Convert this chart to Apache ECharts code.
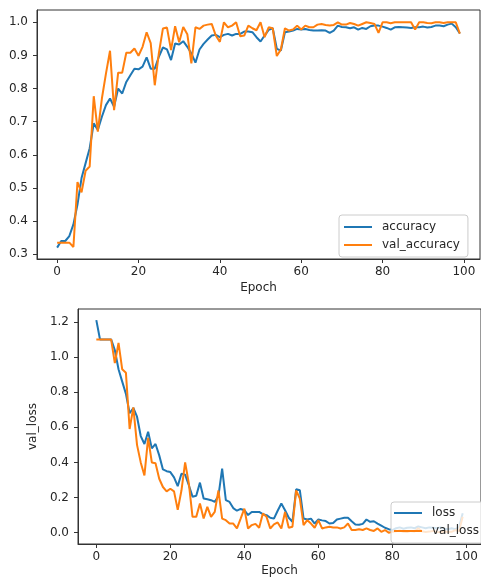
<!DOCTYPE html>
<html><head><meta charset="utf-8">
<script src="https://cdn.jsdelivr.net/npm/echarts@6/dist/echarts.min.js"></script>
<style>html,body{margin:0;padding:0;background:#fff}#c{width:481px;height:578px}</style>
</head><body><div id="c"></div>
<script>
// ---- data ----
const epochs = Array.from({length: 100}, (_, i) => i);
const accuracy = [
0.32,0.34,0.34,0.355,0.39,0.45,0.53,0.575,0.62,0.695,
0.675,0.715,0.75,0.77,0.745,0.80,0.785,0.82,0.84,0.86,
0.858,0.866,0.894,0.86,0.86,0.896,0.924,0.918,0.886,0.936,
0.933,0.943,0.926,0.906,0.878,0.918,0.935,0.948,0.96,0.962,
0.955,0.962,0.965,0.96,0.965,0.965,0.972,0.972,0.97,0.955,
0.942,0.96,0.977,0.982,0.92,0.915,0.97,0.972,0.975,0.98,
0.978,0.98,0.977,0.975,0.975,0.976,0.975,0.968,0.975,0.99,
0.986,0.985,0.982,0.985,0.978,0.983,0.98,0.988,0.99,0.99,
0.987,0.983,0.978,0.985,0.986,0.985,0.984,0.983,0.985,0.985,
0.987,0.984,0.986,0.99,0.99,0.988,0.993,0.996,0.985,0.966];
const valAccuracy = [
0.335,0.335,0.335,0.335,0.322,0.518,0.487,0.552,0.565,0.777,
0.67,0.77,0.845,0.914,0.735,0.848,0.848,0.908,0.908,0.921,
0.899,0.926,0.97,0.937,0.81,0.906,0.981,0.984,0.916,0.988,
0.94,0.986,0.964,0.876,0.985,0.98,0.99,0.993,0.995,0.96,
0.941,1.0,0.985,0.99,1.0,0.958,0.96,0.99,0.982,0.976,
1.0,0.955,0.985,0.982,0.898,0.918,0.982,0.975,0.978,0.99,
0.978,0.99,0.985,0.985,0.993,0.995,0.992,0.99,0.992,1.0,
0.993,0.993,0.998,0.995,0.99,0.995,1.0,0.998,0.995,0.968,
1.0,1.0,0.997,1.0,1.0,1.0,1.0,1.0,0.978,1.0,
1.0,0.998,0.997,1.0,1.0,0.998,1.0,1.0,1.0,0.966];
const loss = [
1.21,1.10,1.10,1.10,1.10,1.04,0.93,0.86,0.79,0.68,
0.71,0.66,0.55,0.505,0.575,0.48,0.505,0.44,0.36,0.35,
0.345,0.315,0.265,0.335,0.33,0.27,0.205,0.21,0.285,0.195,
0.19,0.185,0.175,0.21,0.365,0.185,0.175,0.14,0.125,0.135,
0.128,0.10,0.118,0.118,0.118,0.105,0.10,0.085,0.08,0.125,
0.166,0.128,0.085,0.062,0.247,0.241,0.081,0.075,0.08,0.052,
0.075,0.07,0.066,0.052,0.055,0.075,0.08,0.085,0.085,0.065,
0.047,0.045,0.05,0.075,0.062,0.065,0.052,0.04,0.028,0.02,
0.015,0.025,0.03,0.022,0.028,0.03,0.025,0.035,0.03,0.025,
0.03,0.028,0.025,0.03,0.022,0.02,0.025,0.02,0.03,0.11];
const valLoss = [
1.10,1.10,1.10,1.10,1.10,0.965,1.08,0.93,0.91,0.59,
0.713,0.50,0.40,0.326,0.54,0.40,0.395,0.307,0.26,0.235,
0.25,0.235,0.13,0.24,0.40,0.28,0.09,0.09,0.166,0.081,
0.147,0.09,0.118,0.24,0.08,0.071,0.052,0.052,0.024,0.08,
0.137,0.024,0.043,0.05,0.028,0.109,0.09,0.024,0.047,0.058,
0.024,0.118,0.028,0.034,0.241,0.194,0.043,0.071,0.052,0.028,
0.071,0.024,0.03,0.034,0.03,0.03,0.024,0.03,0.052,0.015,
0.015,0.02,0.015,0.024,0.015,0.01,0.024,0.005,0.015,0.0,
0.005,0.008,0.012,0.005,0.004,0.01,0.006,0.025,0.008,0.004,
0.006,0.01,0.004,0.003,0.006,0.004,0.005,0.015,0.008,0.09];
const xTicks = [0, 20, 40, 60, 80, 100];
const accTicks = [0.3, 0.4, 0.5, 0.6, 0.7, 0.8, 0.9, 1.0];
const lossTicks = [0.0, 0.2, 0.4, 0.6, 0.8, 1.0, 1.2];

// ---- chart ----
const FONT = 'DejaVu Sans';
const INK = '#262626';
const AX = '#333';
const BLUE = '#1f77b4', ORANGE = '#ff7f0e';
const pairs = arr => arr.map((v, i) => [epochs[i], v]);

function xAxis(grid, gap) {
  return {
    gridIndex: grid, type: 'value', min: -4.95, max: 103.95,
    axisLine: {show: true, onZero: false, lineStyle: {color: AX, width: 1}},
    axisTick: {show: true, length: 4, customValues: xTicks, lineStyle: {color: AX}},
    axisLabel: {customValues: xTicks, fontSize: 12, color: INK, margin: 7, fontFamily: FONT},
    splitLine: {show: false},
    name: 'Epoch', nameLocation: 'middle', nameGap: gap,
    nameTextStyle: {fontSize: 12, color: INK, fontFamily: FONT}
  };
}
function yAxis(grid, min, max, ticks, name) {
  return {
    gridIndex: grid, type: 'value', min: min, max: max,
    axisLine: {show: true, onZero: false, lineStyle: {color: AX, width: 1}},
    axisTick: {show: true, length: 4, customValues: ticks, lineStyle: {color: AX}},
    axisLabel: {customValues: ticks, fontSize: 12, color: INK, margin: 9, fontFamily: FONT,
      formatter: v => v.toFixed(1)},
    splitLine: {show: false},
    name: name, nameLocation: 'middle', nameGap: 35, nameRotate: 90,
    nameTextStyle: {fontSize: 12, color: INK, fontFamily: FONT}
  };
}
function line(name, data, color, x, y) {
  return {name: name, type: 'line', xAxisIndex: x, yAxisIndex: y, data: pairs(data),
    symbol: 'none', color: color, lineStyle: {color: color, width: 2}, animation: false};
}
const legendCommon = {
  orient: 'vertical', icon: 'rect', itemWidth: 28, itemHeight: 2, itemGap: 4,
  backgroundColor: 'rgba(255,255,255,0.8)', borderColor: '#cccccc', borderWidth: 1, borderRadius: 3,
  textStyle: {fontSize: 12, lineHeight: 14, color: INK, fontFamily: FONT, padding: [0, 0, 0, 5]},
  selectedMode: false
};
const chart = echarts.init(document.getElementById('c'), null, {renderer: 'canvas'});
chart.setOption({
  backgroundColor: '#fff',
  animation: false,
  grid: [
    {left: 37, top: 10, width: 443, height: 249, show: true, borderColor: AX, borderWidth: 1, backgroundColor: 'transparent'},
    {left: 78, top: 309, width: 410, height: 236.5, show: true, borderColor: AX, borderWidth: 1, backgroundColor: 'transparent'}
  ],
  xAxis: [xAxis(0, 23), xAxis(1, 21)],
  yAxis: [yAxis(0, 0.2857, 1.0371, accTicks, ''), yAxis(1, -0.0645, 1.2733, lossTicks, 'val_loss')],
  legend: [
    Object.assign({}, legendCommon, {data: ['accuracy', 'val_accuracy'], left: 339, top: 215, padding: [5, 8, 5, 5]}),
    Object.assign({}, legendCommon, {data: ['loss', 'val_loss'], left: 391, top: 502, padding: [4, 8, 5, 3]})
  ],
  series: [
    line('accuracy', accuracy, BLUE, 0, 0),
    line('val_accuracy', valAccuracy, ORANGE, 0, 0),
    line('loss', loss, BLUE, 1, 1),
    line('val_loss', valLoss, ORANGE, 1, 1)
  ]
});
</script></body></html>
